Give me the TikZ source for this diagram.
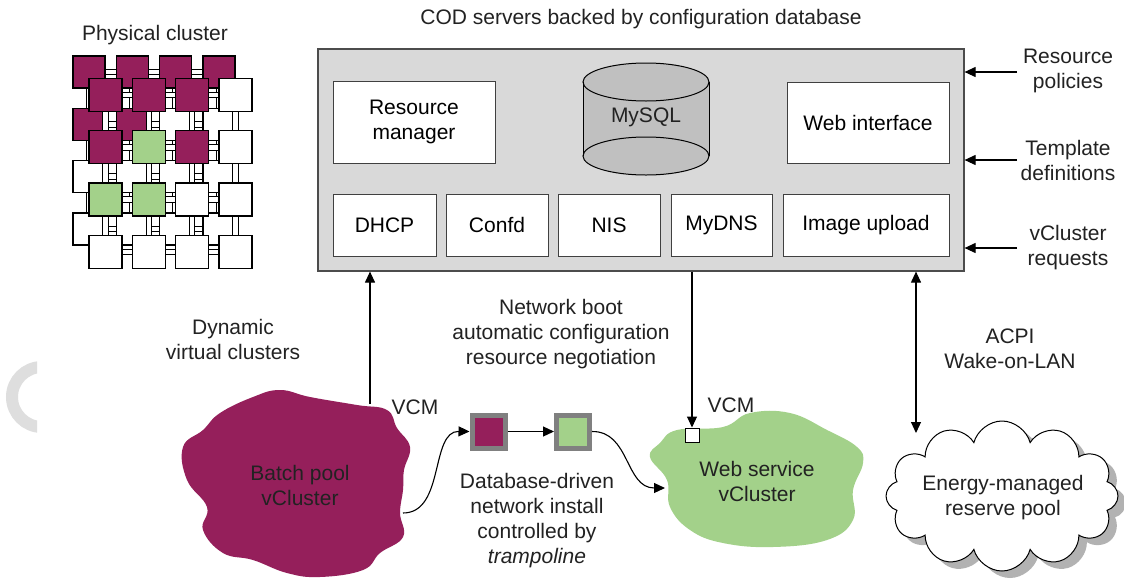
\documentclass[tikz,border=0pt]{standalone}
\usepackage{fontspec}
\setmainfont{Liberation Sans}
\usetikzlibrary{arrows.meta,shapes.symbols,shadows}
\definecolor{bpurple}{HTML}{951F5B}
\definecolor{bgreen}{HTML}{A3D18A}
\definecolor{boxgray}{HTML}{D9D9D9}
\definecolor{cylgray}{HTML}{C0C0C0}
\definecolor{txt}{HTML}{222222}
\tikzset{
  wbox/.style={draw=black!75, fill=white, line width=1pt, align=center, inner sep=0pt},
  lbl/.style={align=center, text=txt, inner sep=0pt},
  arr/.style={line width=1.1pt, -{Triangle[length=11pt,width=10pt]}},
  arrboth/.style={line width=1.1pt, {Triangle[length=11pt,width=10pt]}-{Triangle[length=11pt,width=10pt]}},
  link/.style={draw=black, line width=1pt, double=white, double distance=4.5pt},
  pc/.style={draw=black, line width=1.3pt},
  minisq/.style={draw=black!50, line width=5pt, minimum size=33pt, inner sep=0pt},
}
\begin{document}
\begin{tikzpicture}[x=1pt,y=-1pt,font=\fontsize{21}{25}\selectfont]
\useasboundingbox (0,0) rectangle (1124,584);
\fill[white] (0,0) rectangle (1124,584);

% faint ring at left edge
\begin{scope}
\clip (0,350) rectangle (37,445);
\draw[black!13, line width=12pt] (42,397) circle [radius=30];
\end{scope}

% ---------- physical cluster ----------
\node[lbl] (pctitle) at (155,35) {Physical cluster};
% back layer
\foreach \j in {0,...,3} \draw[link] (89,72+52.3*\j) -- (89+3*43.3,72+52.3*\j);
\foreach \i in {0,...,3} \draw[link] (89+43.3*\i,72) -- (89+43.3*\i,72+3*52.3);
\foreach \i/\j/\c in {0/0/bpurple,1/0/bpurple,2/0/bpurple,3/0/bpurple,
  0/1/bpurple,1/1/bpurple,2/1/white,3/1/white,
  0/2/white,1/2/white,2/2/white,3/2/white,
  0/3/white,1/3/white,2/3/white,3/3/white}
  \draw[pc,fill=\c] (73+43.3*\i,56+52.3*\j) rectangle ++(32,32);
% front layer
\foreach \j in {0,...,3} \draw[link] (105.5,95+52.3*\j) -- (105.5+3*43.3,95+52.3*\j);
\foreach \i in {0,...,3} \draw[link] (105.5+43.3*\i,95) -- (105.5+43.3*\i,95+3*52.3);
\foreach \i/\j/\c in {0/0/bpurple,1/0/bpurple,2/0/bpurple,3/0/white,
  0/1/bpurple,1/1/bgreen,2/1/bpurple,3/1/white,
  0/2/bgreen,1/2/bgreen,2/2/white,3/2/white,
  0/3/white,1/3/white,2/3/white,3/3/white}
  \draw[pc,fill=\c] (89+43.3*\i,78.5+52.3*\j) rectangle ++(33,33);

% ---------- COD server box ----------
\node[lbl] (title) at (641,19) {COD servers backed by configuration database};
\node[draw=black!70, fill=boxgray, line width=1.2pt, minimum width=646pt, minimum height=222pt, inner sep=0pt] (box) at (641,160) {};
\node[wbox, minimum width=162pt, minimum height=82pt] (rm) at (414,122) {Resource\\manager};
\node[wbox, minimum width=162pt, minimum height=81pt] (web) at (868,122.5) {Web interface};
\node[wbox, minimum width=103pt, minimum height=62pt] (dhcp) at (384.5,225) {DHCP};
\node[wbox, minimum width=102pt, minimum height=62pt] (confd) at (497,225) {Confd};
\node[wbox, minimum width=102pt, minimum height=62pt] (nis) at (609,225) {NIS};
\node[wbox, minimum width=101pt, minimum height=62pt] (mydns) at (721.5,225) {MyDNS};
\node[wbox, minimum width=166pt, minimum height=62pt] (img) at (866,225) {Image upload};
% MySQL cylinder
\fill[cylgray] (583,82) rectangle (709,156);
\draw[line width=1pt, fill=cylgray] (646,156) ellipse [x radius=63, y radius=19];
\draw[line width=1pt, fill=cylgray] (646,82) ellipse [x radius=63, y radius=19];
\draw[line width=1pt] (583,82) -- (583,156) (709,82) -- (709,156);
\node[lbl] (mysql) at (646,117) {MySQL};

% right side inputs
\node[lbl] (rp) at (1068,71) {Resource\\policies};
\node[lbl] (td) at (1068,160) {Template\\definitions};
\node[lbl] (vr) at (1068,248) {vCluster\\requests};
\coordinate (rpa) at (1017,72);
\coordinate (tda) at (1017,160);
\coordinate (vra) at (1017,248);
\draw[arr] (rpa) -- (rpa -| box.east);
\draw[arr] (tda) -- (tda -| box.east);
\draw[arr] (vra) -- (vra -| box.east);

% ---------- labels in the middle ----------
\node[lbl] (dyn) at (233,339) {Dynamic\\virtual clusters};
\node[lbl] (netboot) at (561,334) {Network boot\\automatic configuration\\resource negotiation};
\node[lbl] (acpi) at (1010,349) {ACPI\\Wake-on-LAN};
\node[lbl] (vcm1) at (415,407) {VCM};
\node[lbl] (vcm2) at (731,405) {VCM};
\node[lbl] (dbd) at (537,521) {Database-driven\\network install\\controlled by\\\textit{trampoline}};

% ---------- clouds ----------
\fill[bpurple] plot[smooth cycle, tension=0.7] coordinates {
 (253,397) (280,390) (310,397) (357,405) (387,410) (397,428) (410,447) (404,470)
 (403,490) (400,513) (403,537) (380,553) (363,570) (320,577) (287,573) (253,560)
 (223,553) (203,530) (207,507) (187,480) (183,447) (203,430) (220,413)};
\node[lbl] (batch) at (300,485) {Batch pool\\vCluster};

\fill[bgreen] plot[smooth cycle, tension=0.7] coordinates {
 (660,443) (677,430) (723,427) (750,413) (790,413) (827,430) (857,447) (863,463)
 (853,490) (853,520) (827,540) (773,547) (723,543) (690,530) (670,507) (667,480) (650,457)};
\node[lbl] (websvc) at (757,481) {Web service\\vCluster};

\node[cloud, cloud puffs=12, draw=black, line width=1pt, fill=white,
  minimum width=232pt, minimum height=150pt, inner sep=0pt,
  drop shadow={shadow xshift=8pt, shadow yshift=-7pt, fill=black!30, opacity=1}]
  (energy) at (1002,496) {};
\node[lbl] (energytxt) at (1003,498) {Energy-managed\\reserve pool};

% ---------- mini squares ----------
\node[minisq, fill=bpurple] (sq1) at (488.5,431.5) {};
\node[minisq, fill=bgreen] (sq2) at (573,431.5) {};
\node[draw=black, fill=white, line width=1pt, minimum size=14pt, inner sep=0pt] (vcmsq) at (692,435) {};

% ---------- connectors ----------
\coordinate (bstart) at (403,513);
\coordinate (wend) at (665,488);
\coordinate (dhcpup) at (370,404);
\coordinate (etop) at (916,433);
\draw[arr] (sq1) -- (sq2);
\draw[arr] (bstart) .. controls (445,513) and (430,431) .. (sq1.west);
\draw[arr] (sq2.east) .. controls (630,431) and (625,488) .. (wend);
\draw[arr] (dhcpup) -- (dhcpup |- box.south);
\draw[arr] (vcmsq.north |- box.south) -- (vcmsq.north);
\draw[arrboth] (etop |- box.south) -- (etop);
\end{tikzpicture}
\end{document}
